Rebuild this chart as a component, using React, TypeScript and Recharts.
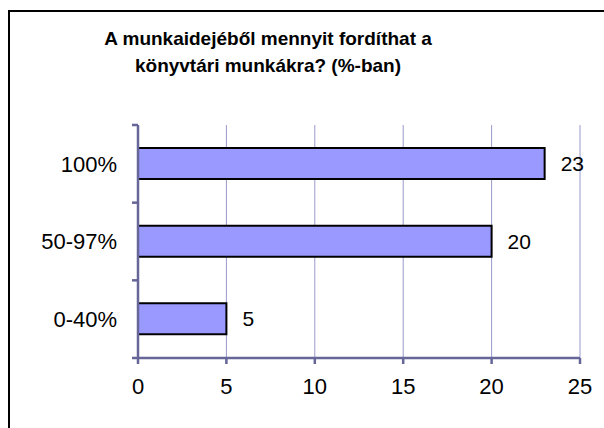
import { BarChart, Bar, XAxis, YAxis, CartesianGrid, LabelList } from 'recharts';

const categories = ['100%', '50-97%', '0-40%'];
const counts = [23, 20, 5];
const xTicks = [0, 5, 10, 15, 20, 25];

const data = categories.map((name, i) => ({ name, value: counts[i] }));

const font = '"Liberation Sans", Arial, sans-serif';
const axisColor = '#666699';

// category label plus tick marks on the band edges (Excel style)
const CategoryTick = (props: any) => {
  const { x, y, payload, index, visibleTicksCount } = props;
  const half = payload && payload.offset ? payload.offset : 38.8;
  const last = index === visibleTicksCount - 1;
  return (
    <g>
      <line x1={x - 6} x2={x} y1={y - half} y2={y - half} stroke={axisColor} strokeWidth={2.5} />
      {last && <line x1={x - 6} x2={x} y1={y + half} y2={y + half} stroke={axisColor} strokeWidth={2.5} />}
      <text x={x - 21} y={y} dy="0.36em" textAnchor="end" fill="#000" fontSize={22} fontFamily={font}>
        {payload.value}
      </text>
    </g>
  );
};

const App = () => {
  return (
    <div style={{ position: 'absolute', left: 0, top: 0, width: 604, height: 428, overflow: 'hidden', background: '#fff', fontFamily: font }}>
      <div style={{ position: 'absolute', left: 8, top: 10, width: 620, height: 440, border: '2px solid #000' }} />
      <div style={{ position: 'absolute', left: 0, top: 25, width: 536, textAlign: 'center', fontWeight: 'bold', fontSize: 19, lineHeight: '27px', color: '#000' }}>
        A munkaidejéből mennyit fordíthat a<br />könyvtári munkákra? (%-ban)
      </div>
      <div style={{ position: 'absolute', left: 0, top: 0 }}>
        <BarChart
          width={604}
          height={428}
          data={data}
          layout="vertical"
          margin={{ top: 125, right: 24, bottom: 0, left: 0 }}
        >
          <CartesianGrid horizontal={false} vertical stroke="#9999cc" strokeWidth={1} />
          <XAxis
            type="number"
            domain={[0, 25]}
            ticks={xTicks}
            interval={0}
            height={70}
            axisLine={{ stroke: axisColor, strokeWidth: 2.5 }}
            tickLine={{ stroke: axisColor, strokeWidth: 2.5 }}
            tickSize={6}
            tick={{ fill: '#000', fontSize: 22, fontFamily: font }}
            tickMargin={14}
          />
          <YAxis
            type="category"
            dataKey="name"
            width={138}
            axisLine={{ stroke: axisColor, strokeWidth: 2.5 }}
            tickLine={false}
            tickSize={0}
            tickMargin={0}
            interval={0}
            tick={<CategoryTick />}
          />
          <Bar dataKey="value" fill="#9999ff" stroke="#000" strokeWidth={2} barSize={31} isAnimationActive={false}>
            <LabelList dataKey="value" position="right" offset={16} fill="#000" fontSize={21} fontFamily={font} />
          </Bar>
        </BarChart>
      </div>
    </div>
  );
};

export default App;
